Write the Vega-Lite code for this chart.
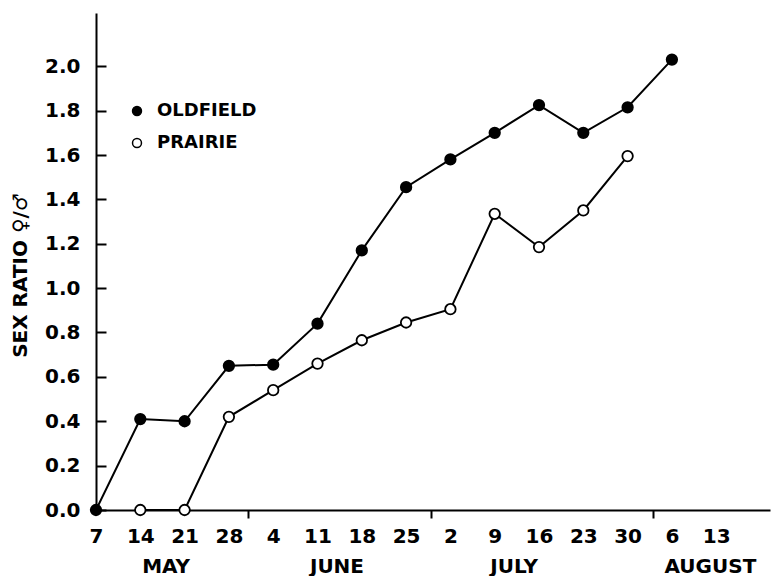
{
  "$schema": "https://vega.github.io/schema/vega-lite/v6.json",
  "width": 674,
  "height": 497,
  "autosize": "none",
  "padding": {"left": 96, "top": 13, "right": 5, "bottom": 66},
  "background": "white",
  "config": {
    "view": {"stroke": null},
    "axis": {"grid": false, "labelFont": "DejaVu Sans", "labelFontWeight": "bold", "labelFontSize": 20, "labelColor": "black", "titleFont": "DejaVu Sans", "titleFontWeight": "bold", "titleFontSize": 20, "titleColor": "black", "domainColor": "black", "domainWidth": 2, "tickColor": "black", "tickWidth": 2}
  },
  "data": {
    "values": [
      {"site": "OLDFIELD", "date": "1980-05-07", "ratio": 0.0},
      {"site": "OLDFIELD", "date": "1980-05-14", "ratio": 0.41},
      {"site": "OLDFIELD", "date": "1980-05-21", "ratio": 0.40},
      {"site": "OLDFIELD", "date": "1980-05-28", "ratio": 0.65},
      {"site": "OLDFIELD", "date": "1980-06-04", "ratio": 0.655},
      {"site": "OLDFIELD", "date": "1980-06-11", "ratio": 0.84},
      {"site": "OLDFIELD", "date": "1980-06-18", "ratio": 1.17},
      {"site": "OLDFIELD", "date": "1980-06-25", "ratio": 1.455},
      {"site": "OLDFIELD", "date": "1980-07-02", "ratio": 1.58},
      {"site": "OLDFIELD", "date": "1980-07-09", "ratio": 1.70},
      {"site": "OLDFIELD", "date": "1980-07-16", "ratio": 1.825},
      {"site": "OLDFIELD", "date": "1980-07-23", "ratio": 1.70},
      {"site": "OLDFIELD", "date": "1980-07-30", "ratio": 1.815},
      {"site": "OLDFIELD", "date": "1980-08-06", "ratio": 2.03},
      {"site": "PRAIRIE", "date": "1980-05-14", "ratio": 0.0},
      {"site": "PRAIRIE", "date": "1980-05-21", "ratio": 0.0},
      {"site": "PRAIRIE", "date": "1980-05-28", "ratio": 0.42},
      {"site": "PRAIRIE", "date": "1980-06-04", "ratio": 0.54},
      {"site": "PRAIRIE", "date": "1980-06-11", "ratio": 0.66},
      {"site": "PRAIRIE", "date": "1980-06-18", "ratio": 0.765},
      {"site": "PRAIRIE", "date": "1980-06-25", "ratio": 0.845},
      {"site": "PRAIRIE", "date": "1980-07-02", "ratio": 0.905},
      {"site": "PRAIRIE", "date": "1980-07-09", "ratio": 1.335},
      {"site": "PRAIRIE", "date": "1980-07-16", "ratio": 1.185},
      {"site": "PRAIRIE", "date": "1980-07-23", "ratio": 1.35},
      {"site": "PRAIRIE", "date": "1980-07-30", "ratio": 1.595}
    ]
  },
  "layer": [
    {
      "mark": {"type": "line", "color": "black", "strokeWidth": 2},
      "encoding": {
        "x": {
          "field": "date",
          "type": "temporal",
          "scale": {"type": "utc", "domain": [{"year": 1980, "month": 5, "date": 7, "utc": true}, {"year": 1980, "month": 8, "date": 21, "hours": 12, "utc": true}]},
          "axis": {
            "orient": "bottom",
            "title": null,
            "values": [
              {"year": 1980, "month": 5, "date": 7, "utc": true},
              {"year": 1980, "month": 5, "date": 14, "utc": true},
              {"year": 1980, "month": 5, "date": 21, "utc": true},
              {"year": 1980, "month": 5, "date": 28, "utc": true},
              {"year": 1980, "month": 5, "date": 31, "utc": true},
              {"year": 1980, "month": 6, "date": 4, "utc": true},
              {"year": 1980, "month": 6, "date": 11, "utc": true},
              {"year": 1980, "month": 6, "date": 18, "utc": true},
              {"year": 1980, "month": 6, "date": 25, "utc": true},
              {"year": 1980, "month": 6, "date": 29, "utc": true},
              {"year": 1980, "month": 7, "date": 2, "utc": true},
              {"year": 1980, "month": 7, "date": 9, "utc": true},
              {"year": 1980, "month": 7, "date": 16, "utc": true},
              {"year": 1980, "month": 7, "date": 23, "utc": true},
              {"year": 1980, "month": 7, "date": 30, "utc": true},
              {"year": 1980, "month": 8, "date": 3, "utc": true},
              {"year": 1980, "month": 8, "date": 6, "utc": true},
              {"year": 1980, "month": 8, "date": 13, "utc": true}
            ],
            "labelExpr": "(utcdate(datum.value) == 31 || utcdate(datum.value) == 29 || utcdate(datum.value) == 3) ? '' : utcFormat(datum.value, '%-d')",
            "ticks": true,
            "tickSize": 8,
            "tickOpacity": {"condition": {"test": "utcdate(datum.value) == 31 || utcdate(datum.value) == 29 || utcdate(datum.value) == 3", "value": 1}, "value": 0},
            "labelPadding": 8,
            "labelFlush": false,
            "labelOverlap": false
          }
        },
        "y": {
          "field": "ratio",
          "type": "quantitative",
          "scale": {"domain": [0, 2.24], "nice": false},
          "axis": {
            "title": "SEX RATIO ♀/♂",
            "values": [0, 0.2, 0.4, 0.6, 0.8, 1.0, 1.2, 1.4, 1.6, 1.8, 2.0],
            "format": ".1f",
            "ticks": true,
            "tickSize": -10,
            "labelPadding": 26,
            "titlePadding": 14,
            "titleY": 262,
            "labelFlush": false,
            "labelOverlap": false
          }
        },
        "detail": {"field": "site"}
      }
    },
    {
      "mark": {"type": "point", "filled": true, "stroke": "black", "strokeWidth": 1.8, "size": 110, "opacity": 1},
      "encoding": {
        "x": {
          "field": "date",
          "type": "temporal",
          "axis": {
            "orient": "bottom",
            "title": null,
            "values": [
              {"year": 1980, "month": 5, "date": 18, "utc": true},
              {"year": 1980, "month": 6, "date": 14, "utc": true},
              {"year": 1980, "month": 7, "date": 12, "utc": true},
              {"year": 1980, "month": 8, "date": 12, "utc": true}
            ],
            "labelExpr": "upper(utcFormat(datum.value, '%B'))",
            "ticks": false,
            "domain": false,
            "labelPadding": 46,
            "labelFlush": false,
            "labelOverlap": false
          }
        },
        "y": {"field": "ratio", "type": "quantitative"},
        "fill": {
          "field": "site",
          "type": "nominal",
          "scale": {"domain": ["OLDFIELD", "PRAIRIE"], "range": ["black", "white"]},
          "legend": {
            "orient": "none",
            "legendX": 32,
            "legendY": 89,
            "title": null,
            "padding": 0,
            "symbolType": "circle",
            "symbolSize": 80,
            "symbolStrokeColor": "black",
            "symbolStrokeWidth": 1.5,
            "labelFont": "DejaVu Sans",
            "labelFontWeight": "bold",
            "labelFontSize": 18,
            "labelColor": "black",
            "labelOffset": 11,
            "rowPadding": 14
          }
        }
      }
    }
  ],
  "resolve": {"axis": {"x": "independent"}}
}
